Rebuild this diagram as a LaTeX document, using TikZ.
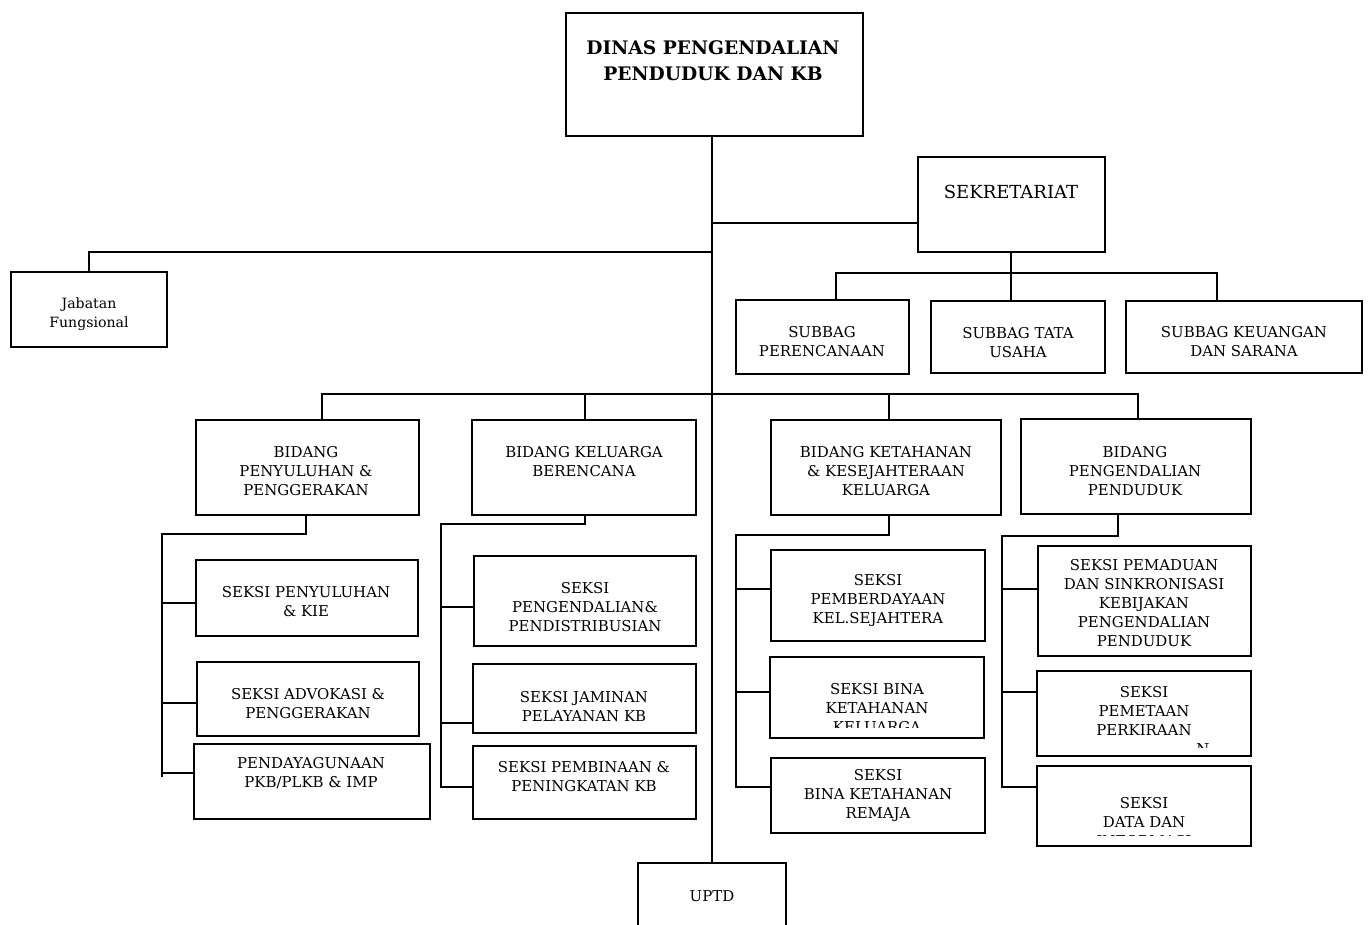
\documentclass[tikz,border=0pt]{standalone}
\usepackage{fontspec}
\setmainfont{DejaVu Serif}
\usetikzlibrary{fit}
\begin{document}
\begin{tikzpicture}[x=0.75pt,y=-0.75pt,
  box/.style={draw,line width=1.4pt,inner sep=0pt},
  txt/.style={align=center,inner sep=0pt,font=\fontsize{11.2}{14.25}\selectfont},
  ttl/.style={align=center,inner sep=0pt,font=\bfseries\fontsize{14}{19.5}\selectfont},
  ln/.style={line width=1.4pt}]
\useasboundingbox (0,0) rectangle (1368,925);

% ---------- boxes ----------
\node[box,fit={(566,13)(863,136)}] (dinas) {};
\node[box,fit={(918,157)(1105,252)}] (sek) {};
\node[box,fit={(11,272)(167,347)}] (jab) {};
\node[box,fit={(736,300)(909,374)}] (sb1) {};
\node[box,fit={(931,301)(1105,373)}] (sb2) {};
\node[box,fit={(1126,301)(1362,373)}] (sb3) {};
\node[box,fit={(196,420)(419,515)}] (b1) {};
\node[box,fit={(472,420)(696,515)}] (b2) {};
\node[box,fit={(771,420)(1001,515)}] (b3) {};
\node[box,fit={(1021,419)(1251,514)}] (b4) {};
\node[box,fit={(196,560)(418,636)}] (k11) {};
\node[box,fit={(197,662)(419,736)}] (k12) {};
\node[box,fit={(194,744)(430,819)}] (k13) {};
\node[box,fit={(474,556)(696,646)}] (k21) {};
\node[box,fit={(473,664)(696,733)}] (k22) {};
\node[box,fit={(473,746)(696,819)}] (k23) {};
\node[box,fit={(771,550)(985,641)}] (k31) {};
\node[box,fit={(770,657)(984,738)}] (k32) {};
\node[box,fit={(771,758)(985,833)}] (k33) {};
\node[box,fit={(1038,546)(1251,656)}] (k41) {};
\node[box,fit={(1037,671)(1251,756)}] (k42) {};
\node[box,fit={(1037,766)(1251,846)}] (k43) {};
\draw[ln] (638,945) -- (638,863) -- (786,863) -- (786,945);
\node[inner sep=0pt,fit={(638,863)(786,925)}] (uptd) {};

% ---------- texts ----------
\node[ttl] (tdinas) at (713,61) {DINAS PENGENDALIAN\\PENDUDUK DAN KB};
\node[txt,font=\fontsize{13.5}{17}\selectfont] (tsek) at (1011,192) {SEKRETARIAT};
\node[txt,font=\fontsize{10.6}{14.25}\selectfont] (tjab) at (89,314) {Jabatan\\Fungsional};
\node[txt] (tsb1) at (822,342) {SUBBAG\\PERENCANAAN};
\node[txt] (tsb2) at (1018,342.5) {SUBBAG TATA\\USAHA};
\node[txt] (tsb3) at (1244,341.5) {SUBBAG KEUANGAN\\DAN SARANA};
\node[txt] (tb1) at (306,471) {BIDANG\\PENYULUHAN \&\\PENGGERAKAN};
\node[txt] (tb2) at (584,461.5) {BIDANG KELUARGA\\BERENCANA};
\node[txt] (tb3) at (886,471) {BIDANG KETAHANAN\\\& KESEJAHTERAAN\\KELUARGA};
\node[txt] (tb4) at (1135,471) {BIDANG\\PENGENDALIAN\\PENDUDUK};
\node[txt] (tk11) at (306,601.5) {SEKSI PENYULUHAN\\\& KIE};
\node[txt] (tk12) at (308,703.5) {SEKSI ADVOKASI \&\\PENGGERAKAN};
\node[txt] (tk13) at (311,773.5) {PENDAYAGUNAAN\\PKB/PLKB \& IMP};
\node[txt] (tk21) at (585,607) {SEKSI\\PENGENDALIAN\&\\PENDISTRIBUSIAN};
\node[txt] (tk22) at (584,706.5) {SEKSI JAMINAN\\PELAYANAN KB};
\node[txt] (tk23) at (584,776.5) {SEKSI PEMBINAAN \&\\PENINGKATAN KB};
\node[txt] (tk31) at (878,601) {SEKSI\\PEMBERDAYAAN\\KEL.SEJAHTERA};
\begin{scope}
  \clip (770,657) rectangle (984,727);
  \node[txt] (tk32) at (877,708.5) {SEKSI BINA\\KETAHANAN\\KELUARGA};
\end{scope}
\node[txt] (tk33) at (878,796) {SEKSI\\BINA KETAHANAN\\REMAJA};
\node[txt] (tk41) at (1144,603.5) {SEKSI PEMADUAN\\DAN SINKRONISASI\\KEBIJAKAN\\PENGENDALIAN\\PENDUDUK};
\node[txt] (tk42) at (1144,711) {SEKSI\\PEMETAAN\\PERKIRAAN};
\begin{scope}
  \clip (1037,671) rectangle (1251,747);
  \node[txt,anchor=north] (tk42n) at (1203,743) {N};
\end{scope}
\begin{scope}
  \clip (1037,766) rectangle (1251,835.5);
  \node[txt] (tk43) at (1144,822) {SEKSI\\DATA DAN\\INFORMASI};
\end{scope}
\node[txt] (tuptd) at (712,896) {UPTD};

% ---------- connectors ----------
\coordinate (trunk) at (712,136);
\draw[ln] (trunk |- dinas.south) -- (uptd.north -| trunk);
\coordinate (jsek) at (712,223);
\draw[ln] (jsek) -- (jsek -| sek.west);
\coordinate (jjab) at (712,252);
\draw[ln] (jjab) -| (jab.north);
% subbag bus
\coordinate (sbL) at (836,273);
\coordinate (sbR) at (1217,273);
\draw[ln] (sbL |- sb1.north) -- (sbL) -- (sbR) -- (sbR |- sb3.north);
\coordinate (sd) at (1011,273);
\draw[ln] (sd |- sek.south) -- (sd |- sb2.north);
% bidang bus
\coordinate (bL) at (322,394);
\coordinate (bR) at (1138,394);
\draw[ln] (bL |- b1.north) -- (bL) -- (bR) -- (bR |- b4.north);
\coordinate (d2) at (585,394);
\coordinate (d3) at (889,394);
\draw[ln] (d2) -- (d2 |- b2.north);
\draw[ln] (d3) -- (d3 |- b3.north);
% subtree 1
\coordinate (s1) at (306,534);
\coordinate (v1) at (162,534);
\coordinate (v1e) at (162,777);
\draw[ln] (s1 |- b1.south) -- (s1) -- (v1) -- (v1e);
\coordinate (j11) at (162,603);
\coordinate (j12) at (162,703);
\coordinate (j13) at (162,773);
\draw[ln] (j11) -- (j11 -| k11.west);
\draw[ln] (j12) -- (j12 -| k12.west);
\draw[ln] (j13) -- (j13 -| k13.west);
% subtree 2
\coordinate (s2) at (585,524);
\coordinate (v2) at (441,524);
\coordinate (j21) at (441,607);
\coordinate (j22) at (441,723);
\coordinate (j23) at (441,787);
\draw[ln] (s2 |- b2.south) -- (s2) -- (v2) -- (j23) -- (j23 -| k23.west);
\draw[ln] (j21) -- (j21 -| k21.west);
\draw[ln] (j22) -- (j22 -| k22.west);
% subtree 3
\coordinate (s3) at (889,535);
\coordinate (v3) at (736,535);
\coordinate (j31) at (736,589);
\coordinate (j32) at (736,692);
\coordinate (j33) at (736,787);
\draw[ln] (s3 |- b3.south) -- (s3) -- (v3) -- (j33) -- (j33 -| k33.west);
\draw[ln] (j31) -- (j31 -| k31.west);
\draw[ln] (j32) -- (j32 -| k32.west);
% subtree 4
\coordinate (s4) at (1118,536);
\coordinate (v4) at (1002,536);
\coordinate (j41) at (1002,589);
\coordinate (j42) at (1002,692);
\coordinate (j43) at (1002,787);
\draw[ln] (s4 |- b4.south) -- (s4) -- (v4) -- (j43) -- (j43 -| k43.west);
\draw[ln] (j41) -- (j41 -| k41.west);
\draw[ln] (j42) -- (j42 -| k42.west);
\end{tikzpicture}
\end{document}
